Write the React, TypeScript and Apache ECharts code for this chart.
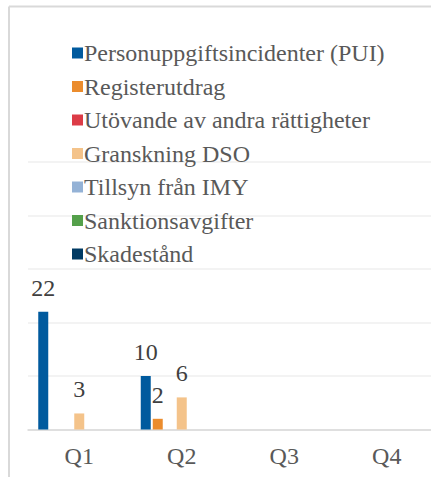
import React, { useEffect, useRef } from "react";
import * as echarts from "echarts";

const categories = ["Q1", "Q2", "Q3", "Q4"];
const seriesNames = [
  "Personuppgiftsincidenter (PUI)",
  "Registerutdrag",
  "Utövande av andra rättigheter",
  "Granskning DSO",
  "Tillsyn från IMY",
  "Sanktionsavgifter",
  "Skadestånd",
];
const pui = [22, 10, 0, 0];
const registerutdrag = [0, 2, 0, 0];
const utovande = [0, 0, 0, 0];
const granskning = [3, 6, 0, 0];
const tillsyn = [0, 0, 0, 0];
const sanktion = [0, 0, 0, 0];
const skadestand = [0, 0, 0, 0];
const seriesValues = [pui, registerutdrag, utovande, granskning, tillsyn, sanktion, skadestand];
const colors = ["#005A9E", "#EB8C2D", "#DC3B46", "#F4C38A", "#94B2D6", "#54A04A", "#003A63"];

const FONT = "Liberation Serif";

export default function App() {
  const ref = useRef<HTMLDivElement>(null);
  useEffect(() => {
    if (!ref.current) return;
    const chart = echarts.init(ref.current, undefined, { renderer: "svg" });
    chart.setOption({
      animation: false,
      color: colors,
      textStyle: { fontFamily: FONT },
      graphic: [
        { type: "line", shape: { x1: 9, y1: 6.5, x2: 460, y2: 6.5 }, style: { stroke: "#D9D9D9", lineWidth: 2 }, z: -1 },
        { type: "line", shape: { x1: 9, y1: 6.5, x2: 9, y2: 477 }, style: { stroke: "#D9D9D9", lineWidth: 2 }, z: -1 },
      ],
      legend: {
        orient: "vertical",
        left: 67,
        top: 36,
        itemWidth: 11,
        itemHeight: 11,
        itemGap: 9.5,
        icon: "rect",
        data: seriesNames,
        textStyle: { fontFamily: FONT, fontSize: 24, color: "#595959", padding: [0, 0, 0, -4] },
      },
      grid: { left: 28, right: 22, top: 162, bottom: 47.5, containLabel: false },
      xAxis: {
        type: "category",
        data: categories,
        axisLine: { show: true, lineStyle: { color: "#D9D9D9", width: 1.5 } },
        axisTick: { show: false },
        axisLabel: { fontFamily: FONT, fontSize: 24, color: "#595959", margin: 14 },
      },
      yAxis: {
        type: "value",
        min: 0,
        max: 50,
        interval: 10,
        axisLabel: { show: false },
        axisLine: { show: false },
        axisTick: { show: false },
        splitLine: { lineStyle: { color: "#EFEFEF", width: 1.5 } },
      },
      series: seriesNames.map((name, i) => ({
        name,
        type: "bar",
        data: seriesValues[i],
        barGap: "20%",
        barCategoryGap: "20%",
        label: {
          show: true,
          position: "top",
          distance: 12,
          fontFamily: FONT,
          fontSize: 24,
          color: "#404040",
          formatter: (p: any) => (p.value ? String(p.value) : ""),
        },
      })),
    });
    return () => chart.dispose();
  }, []);
  return (
    <div style={{ position: "fixed", left: 0, top: 0, width: 431, height: 477, overflow: "hidden", background: "#fff" }}>
      <div ref={ref} style={{ width: 460, height: 477 }} />
    </div>
  );
}
